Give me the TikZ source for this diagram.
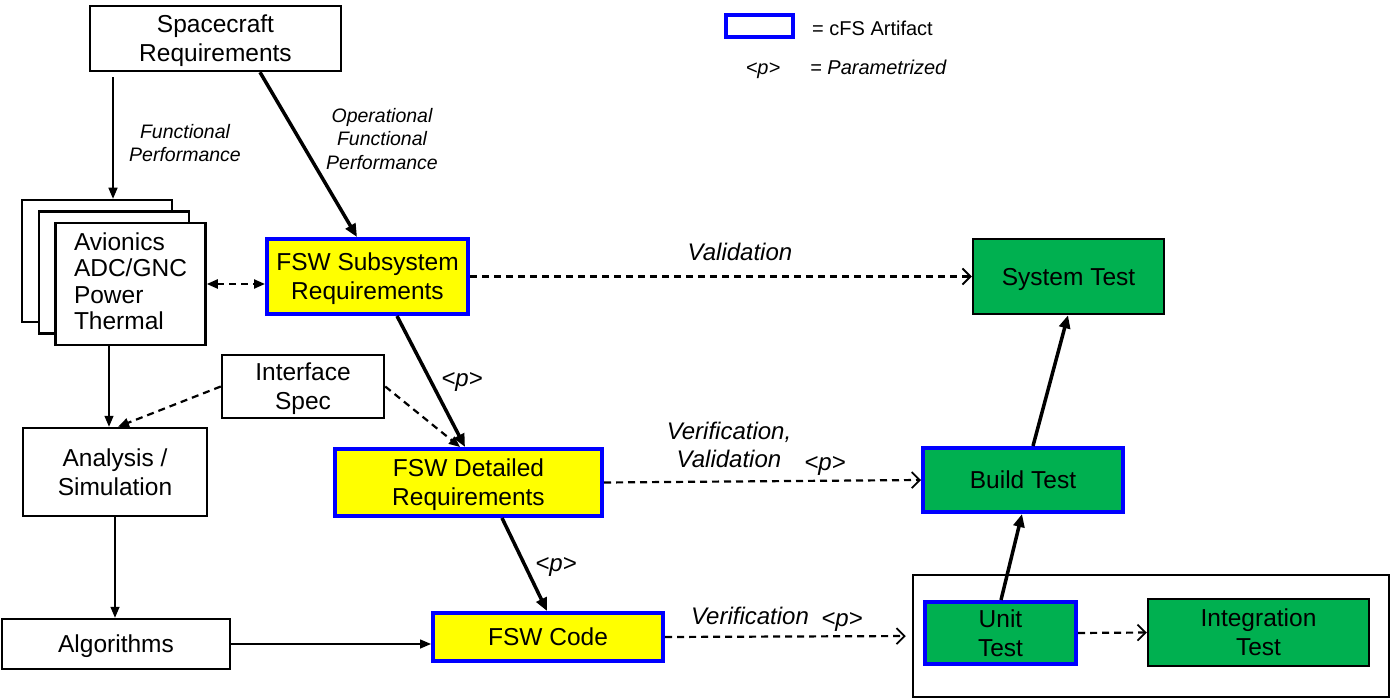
\documentclass[tikz,border=0pt]{standalone}
\usepackage{fontspec}
\setmainfont{Liberation Sans}
\usetikzlibrary{arrows.meta}
\definecolor{fswyellow}{HTML}{FFFF00}
\definecolor{fswgreen}{HTML}{00B050}
\definecolor{fswblue}{HTML}{0000FF}
\newcommand\mainfs{\fontsize{24.5}{29}\selectfont}
\newcommand\labfs{\fontsize{19.5}{23.5}\selectfont\itshape}
\newcommand\legfs{\fontsize{20}{24}\selectfont}
\begin{document}
\begin{tikzpicture}[x=1pt,y=-1pt,
  blk/.style={draw=black,line width=2.5,fill=white,inner sep=0,align=center,font=\mainfs,text depth=0pt},
  art/.style={blk,draw=fswblue,line width=4},
  yel/.style={art,fill=fswyellow},
  grn/.style={blk,fill=fswgreen},
  grnart/.style={art,fill=fswgreen},
  thinarr/.style={line width=1.5,-{Triangle[length=11pt,width=9pt]}},
  thickarr/.style={line width=3.5,-{Triangle[length=13pt,width=11pt]}},
  dasharr/.style={line width=2.2,dash pattern=on 7pt off 5pt,-{Straight Barb[length=8pt,width=16pt,line width=1.8pt]}},
  dashfill/.style={line width=2.2,dash pattern=on 7pt off 5pt,-{Triangle[length=11pt,width=9pt]}},
  lab/.style={font=\labfs,align=center,inner sep=0},
  plab/.style={font=\fontsize{24}{28}\selectfont\itshape,inner sep=0},
  biglab/.style={font=\fontsize{24}{28}\selectfont\itshape,align=center,inner sep=0}
]
\useasboundingbox (0,0) rectangle (1392,700);

% legend
\node[art,minimum width=67,minimum height=22] (leg) at (759.5,26) {};
\node[font=\legfs,anchor=west,inner sep=0] (legt) at (812,28) {= cFS Artifact};
\node[font=\legfs\itshape,anchor=base,inner sep=0] (legp) at (763,75) {<p>};
\node[font=\legfs\itshape,anchor=base west,inner sep=0] (legpt) at (810,75) {= Parametrized};

% nodes
\node[blk,minimum width=251,minimum height=65] (sc) at (215.5,38.5) {Spacecraft\\Requirements};
\node[blk,minimum width=150,minimum height=122] (stk1) at (97,261) {};
\node[blk,minimum width=150,minimum height=122] (stk2) at (114,272.5) {};
\node[blk,minimum width=150,minimum height=122] (av) at (130.5,284) {};
\node[inner sep=0,text width=113,align=left,font=\fontsize{24.5}{26.5}\selectfont] (avt) at (130.5,281)
  {Avionics\\ADC/GNC\\Power\\Thermal};
\node[yel,minimum width=201,minimum height=75] (fss) at (367.5,276.5) {FSW Subsystem\\Requirements};
\node[blk,minimum width=162,minimum height=63] (ifs) at (303,386.5) {Interface\\Spec};
\node[blk,minimum width=184,minimum height=88] (ana) at (115,472) {Analysis /\\Simulation};
\node[blk,minimum width=228,minimum height=50] (alg) at (116,644) {Algorithms};
\node[yel,minimum width=267,minimum height=67] (fsd) at (468.5,482.5) {FSW Detailed\\Requirements};
\node[yel,minimum width=230,minimum height=48] (code) at (548,637) {FSW Code};
\node[grn,minimum width=191,minimum height=75] (sys) at (1068.5,276.5) {System Test};
\node[grnart,minimum width=200,minimum height=64] (bld) at (1023,480) {Build Test};
\node[blk,fill=none,minimum width=476,minimum height=122] (outer) at (1151,636) {};
\node[grnart,minimum width=151,minimum height=62] (unit) at (1000.5,633) {Unit\\Test};
\node[grn,minimum width=221,minimum height=67] (integ) at (1258.5,632.5) {Integration\\Test};

% connectors
\draw[thinarr,shorten <=5pt] ([xshift=-102.5]sc.south) -- ([xshift=16]stk1.north);
\draw[thickarr] ([xshift=44.5]sc.south) -- ([xshift=-10.5]fss.north);
\draw[dashfill,{Triangle[length=11pt,width=9pt]}-{Triangle[length=11pt,width=9pt]}] (av.east) -- (av.east -| fss.west);
\draw[dasharr] (fss.east) -- (sys.west);
\draw[thickarr] ([xshift=29.5]fss.south) -- ([xshift=-3.5]fsd.north);
\draw[dashfill] (ifs.east) -- ([xshift=-8.5]fsd.north);
\draw[dashfill] (ifs.west) -- ([xshift=3]ana.north);
\draw[thinarr] ([xshift=-21.5]av.south) -- ([xshift=-6]ana.north);
\draw[dasharr] (fsd.east) -- (bld.west);
\draw[thickarr] ([xshift=33.5]fsd.south) -- ([xshift=-1]code.north);
\draw[thinarr] (ana.south) -- (ana.south |- alg.north);
\draw[thinarr] (alg.east) -- (alg.east -| code.west);
\draw[dasharr,shorten >=6pt] (code.east) -- (outer.west);
\draw[thickarr] ([xshift=0.5]unit.north) -- ([xshift=-1]bld.south);
\draw[dasharr] (unit.east) -- (integ.west);
\draw[thickarr] ([xshift=10]bld.north) -- ([xshift=-0.5]sys.south);

% labels
\node[lab] (l1) at (185,143) {Functional\\Performance};
\node[lab] (l2) at (382,139) {Operational\\Functional\\Performance};
\node[biglab] (l3) at (740,252) {Validation};
\node[plab] (l4) at (462,382) {<p>};
\node[biglab] (l5) at (729,445) {Verification,\\Validation};
\node[plab] (l6) at (825,466) {<p>};
\node[plab] (l7) at (556,567) {<p>};
\node[biglab] (l8) at (750,616) {Verification};
\node[plab] (l9) at (842,622) {<p>};
\end{tikzpicture}
\end{document}
